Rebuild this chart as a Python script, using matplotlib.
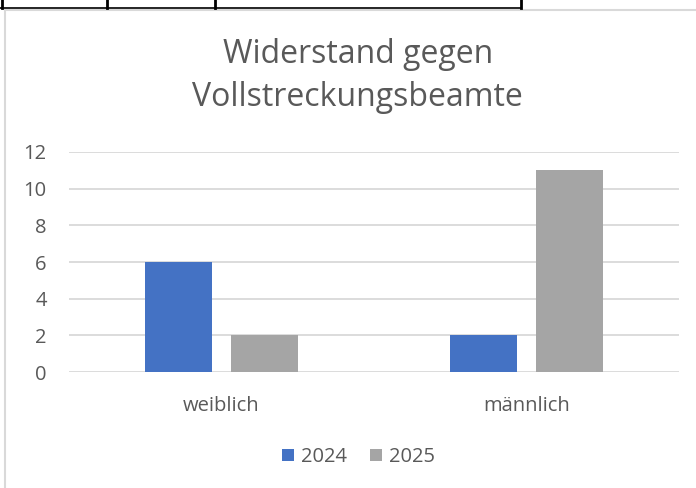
import matplotlib.pyplot as plt
from matplotlib.lines import Line2D
import numpy as np

categories = ["weiblich", "männlich"]
years = ["2024", "2025"]
values_2024 = [6, 2]
values_2025 = [2, 11]
colors = ["#4472C4", "#A5A5A5"]

plt.rcParams['font.family'] = ['Open Sans', 'DejaVu Sans']

fig = plt.figure(figsize=(6.96, 4.88), dpi=100)
ax = fig.add_axes([69 / 696, 1 - 372 / 488, 610 / 696, 220 / 488])

x = np.arange(len(categories))
w = 0.22
ax.bar(x - 0.142, values_2024, w, color=colors[0], label=years[0], zorder=3)
ax.bar(x + 0.142, values_2025, w, color=colors[1], label=years[1], zorder=3)

ax.set_xlim(-0.5, 1.5)
ax.set_ylim(0, 12)
ax.set_yticks(range(0, 13, 2))
ax.set_xticks(x)
ax.set_xticklabels(categories)
ax.grid(axis="y", color="#D9D9D9", linewidth=1.3, zorder=0)
for s in ax.spines.values():
    s.set_visible(False)
ax.tick_params(axis="both", length=0, labelsize=14.5, colors="#595959")
ax.tick_params(axis="y", pad=16)
ax.tick_params(axis="x", pad=17)

fig.text(0.514, 1 - 76 / 488, "Widerstand gegen\nVollstreckungsbeamte", ha="center", va="center",
         fontsize=23, color="#595959", linespacing=1.42)

fig.legend(loc="center", bbox_to_anchor=(0.515, 1 - 457 / 488), ncol=2, frameon=False,
           fontsize=14.5, labelcolor="#595959", handlelength=0.6, handleheight=0.6,
           handletextpad=0.35, columnspacing=1.1)

# screenshot frame: chart border and spreadsheet cell lines above
fig.add_artist(Line2D([5 / 696, 1], [1 - 10 / 488] * 2, color="#D9D9D9", lw=1.5))
fig.add_artist(Line2D([5 / 696] * 2, [0, 1 - 10 / 488], color="#D9D9D9", lw=1.5))
fig.add_artist(Line2D([0, 521 / 696], [1 - 8 / 488] * 2, color="black", lw=1.2))
for xp in [2, 107, 215, 521]:
    fig.add_artist(Line2D([xp / 696] * 2, [1 - 8 / 488, 1], color="black", lw=2))

fig.savefig("out.png", dpi=100)
